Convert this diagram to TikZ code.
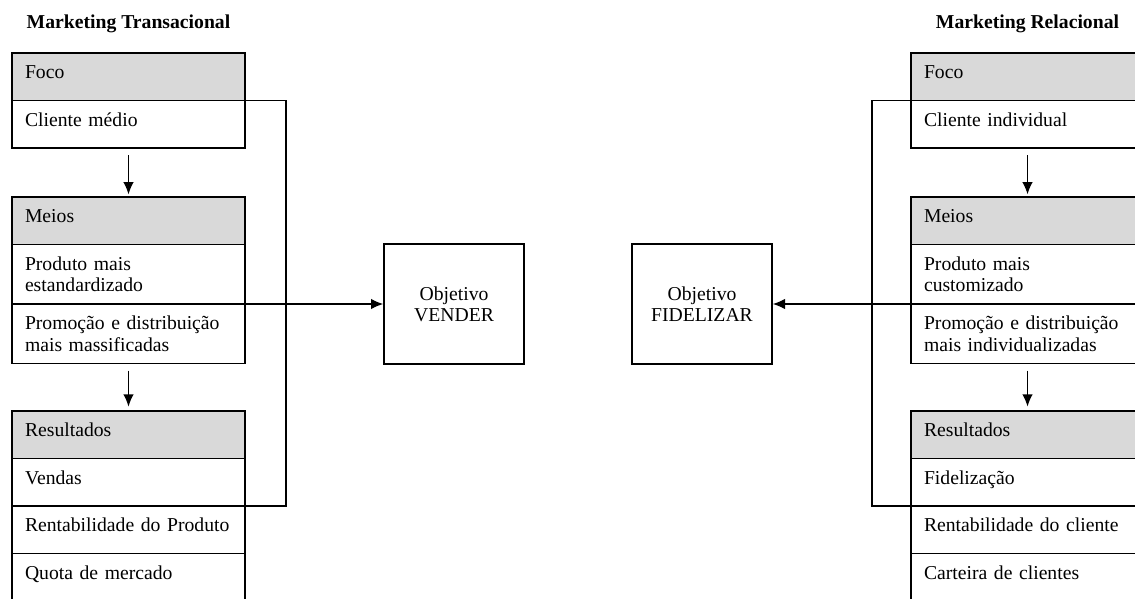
\documentclass[tikz,border=0pt]{standalone}
\usepackage{fontspec}
\setmainfont{Liberation Serif}
\usepackage{xcolor}
\usetikzlibrary{arrows.meta,positioning}
\definecolor{hdrgray}{RGB}{217,217,217}

\tikzset{
  cell/.style={draw, line width=0.8pt, anchor=north west, outer sep=0pt, inner ysep=0pt,
    inner xsep=13*0.02cm, text width=207*0.02cm, minimum width=233*0.02cm, align=left},
  hdr/.style={cell, fill=hdrgray},
  one/.style={minimum height=47.5*0.02cm, text height=8pt, text depth=5.6pt},
  two/.style={minimum height=59.5*0.02cm},
  goal/.style={draw, line width=0.8pt, minimum width=140*0.02cm, minimum height=120*0.02cm, align=center},
  title/.style={anchor=base, font=\fontsize{11.2}{12}\selectfont\bfseries},
  flow/.style={line width=0.8pt, -{Latex[length=7pt,width=6pt]}},
}

\begin{document}
\begin{tikzpicture}[x=0.02cm, y=-0.02cm, font=\fontsize{11.2}{12}\selectfont]
     \useasboundingbox (0,0) rectangle (1135,598);
     \clip (0,0) rectangle (1135,598);

     % transacional
     \node[title] (tTitle) at (128.5,29) {Marketing Transacional};
     \node[hdr, one] (tFoco) at (12,53) {Foco};
     \node[cell, one, below=0pt of tFoco] (tCli) {Cliente médio};
     \node[hdr, one] (tMeios) at (12,197) {Meios};
     \node[cell, two, below=0pt of tMeios] (tProd) {Produto mais\\estandardizado};
     \node[cell, two, below=0pt of tProd] (tProm) {Promoção e distribuição\\mais massificadas};
     \node[hdr, one] (tRes) at (12,411) {Resultados};
     \node[cell, one, below=0pt of tRes] (tVend) {Vendas};
     \node[cell, one, below=0pt of tVend] (tRent) {Rentabilidade do Produto};
     \node[cell, one, below=0pt of tRent] (tQuota) {Quota de mercado};

     \draw[flow, shorten <=4pt, shorten >=1.5pt] (tCli) -- (tMeios);
     \draw[flow, shorten <=4pt, shorten >=2.5pt] (tProm) -- (tRes);
     \draw[line width=0.8pt] (tCli.north east) -- ++(41,0) |- (tRent.north east);

     \node[goal] (tVender) at (454,304) {Objetivo\\VENDER};
     \draw[flow] (tProm.north east) -- (tProm.north east -| tVender.west);

     % relacional
     \node[title] (rTitle) at (1027.5,29) {Marketing Relacional};
     \node[hdr, one] (rFoco) at (911,53) {Foco};
     \node[cell, one, below=0pt of rFoco] (rCli) {Cliente individual};
     \node[hdr, one] (rMeios) at (911,197) {Meios};
     \node[cell, two, below=0pt of rMeios] (rProd) {Produto mais\\customizado};
     \node[cell, two, below=0pt of rProd] (rProm) {Promoção e distribuição\\mais individualizadas};
     \node[hdr, one] (rRes) at (911,411) {Resultados};
     \node[cell, one, below=0pt of rRes] (rFid) {Fidelização};
     \node[cell, one, below=0pt of rFid] (rRent) {Rentabilidade do cliente};
     \node[cell, one, below=0pt of rRent] (rCart) {Carteira de clientes};

     \draw[flow, shorten <=4pt, shorten >=1.5pt] (rCli) -- (rMeios);
     \draw[flow, shorten <=4pt, shorten >=2.5pt] (rProm) -- (rRes);
     \draw[line width=0.8pt] (rCli.north west) -- ++(-39,0) |- (rRent.north west);

     \node[goal] (rFidel) at (702,304) {Objetivo\\FIDELIZAR};
     \draw[flow] (rProm.north west) -- (rProm.north west -| rFidel.east);
\end{tikzpicture}
\end{document}
